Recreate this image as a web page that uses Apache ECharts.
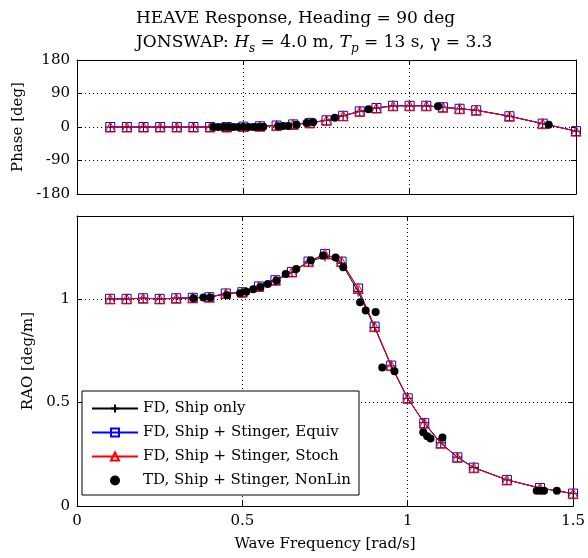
<!DOCTYPE html>
<html>
<head>
<meta charset="utf-8">
<script src="https://cdn.jsdelivr.net/npm/echarts@6/dist/echarts.min.js"></script>
<style>
  html, body { margin: 0; padding: 0; background: #fff; }
  #chart { width: 588px; height: 558px; }
</style>
</head>
<body>
<div id="chart"></div>
<script>
// frequency-domain results (rad/s)
var fdFreq = [0.1, 0.15, 0.2, 0.25, 0.3, 0.35, 0.4, 0.45, 0.5, 0.55, 0.6, 0.65, 0.7, 0.75, 0.8, 0.85, 0.9, 0.95, 1.0, 1.05, 1.1, 1.15, 1.2, 1.3, 1.4, 1.5];
var phaseShip  = [0, 0, 0, 0, 0, 0, 0, 0, 1, 2, 4, 7, 11, 18, 30, 42, 51, 57, 57, 57, 53, 49, 45, 29, 9, -11];
var phaseEquiv = [0, 0, 0, 0, 0, 0, 0, 0, 1, 2, 4, 7, 11, 18, 30, 42, 51, 57, 57, 57, 53, 49, 45, 29, 9, -11];
var phaseStoch = [0, 0, 0, 0, 0, 0, 0, 0, 1, 2, 4, 7, 11, 18, 30, 42, 51, 57, 57, 57, 53, 49, 45, 29, 9, -11];
var raoShip  = [1.0, 1.0, 1.003, 1.0, 1.003, 1.005, 1.008, 1.024, 1.032, 1.058, 1.088, 1.128, 1.178, 1.205, 1.172, 1.035, 0.862, 0.676, 0.52, 0.402, 0.305, 0.236, 0.186, 0.126, 0.087, 0.06];
var raoEquiv = [1.0, 1.0, 1.003, 1.0, 1.003, 1.005, 1.008, 1.026, 1.032, 1.06, 1.09, 1.13, 1.18, 1.217, 1.18, 1.05, 0.866, 0.678, 0.52, 0.40, 0.303, 0.235, 0.185, 0.126, 0.087, 0.06];
var raoStoch = [1.0, 1.0, 1.003, 1.0, 1.003, 1.005, 1.008, 1.026, 1.032, 1.06, 1.09, 1.13, 1.18, 1.217, 1.18, 1.05, 0.866, 0.678, 0.52, 0.40, 0.303, 0.235, 0.185, 0.126, 0.087, 0.06];

// time-domain results
var tdPhaseFreq = [0.41, 0.425, 0.44, 0.455, 0.47, 0.485, 0.50, 0.515, 0.53, 0.545, 0.56, 0.605, 0.62, 0.635, 0.66, 0.69, 0.71, 0.775, 0.876, 1.085, 1.418];
var tdPhase     = [0, 0, 0, 0, 0, 0, 0, 0, 0, 0, 1, 2, 3, 3, 6, 11, 13, 25, 48, 56, 6];
var tdRaoFreq = [0.352, 0.382, 0.403, 0.454, 0.493, 0.512, 0.533, 0.555, 0.577, 0.603, 0.631, 0.663, 0.707, 0.744, 0.782, 0.805, 0.856, 0.873, 0.903, 0.923, 0.96, 1.047, 1.059, 1.069, 1.105, 1.39, 1.402, 1.412, 1.451];
var tdRao     = [1.003, 1.006, 1.006, 1.017, 1.027, 1.034, 1.046, 1.057, 1.072, 1.089, 1.12, 1.144, 1.185, 1.209, 1.2, 1.153, 0.984, 0.944, 0.936, 0.669, 0.651, 0.356, 0.337, 0.326, 0.331, 0.074, 0.074, 0.074, 0.074];

var seriesNames = ['FD, Ship only', 'FD, Ship + Stinger, Equiv', 'FD, Ship + Stinger, Stoch', 'TD, Ship + Stinger, NonLin'];
var phaseTicks = [-180, -90, 0, 90, 180];
var raoTicks = [0, 0.5, 1];
var freqTicks = [0, 0.5, 1, 1.5];

var FONT = 'DejaVu Serif';
var crossPath = 'path://M5,0L5,10M0,5L10,5';

function pairs(xs, ys) {
    return xs.map(function (x, i) { return [x, ys[i]]; });
}

function tickLabel(list) {
    return function (v) {
        for (var i = 0; i < list.length; i++) {
            if (Math.abs(list[i] - v) < 1e-9) return String(list[i]);
        }
        return '';
    };
}

function xAx(grid, pos, labels, name) {
    return {
        type: 'value', gridIndex: grid, position: pos, min: 0, max: 1.5, interval: 0.5,
        axisLine: { show: true, onZero: false, lineStyle: { color: '#000', width: 1 } },
        axisTick: { show: true, inside: true, length: 5, lineStyle: { color: '#000' } },
        axisLabel: { show: labels, margin: 8, color: '#000', fontFamily: FONT, fontSize: 15, formatter: tickLabel(freqTicks) },
        splitLine: { show: pos === 'bottom', lineStyle: { color: '#000', type: [1, 3], width: 1 } },
        name: name || '', nameLocation: 'middle', nameGap: 31,
        nameTextStyle: { color: '#000', fontFamily: FONT, fontSize: 15 }
    };
}

function yAx(grid, pos, min, max, interval, ticks, labels, name, gap) {
    return {
        type: 'value', gridIndex: grid, position: pos, min: min, max: max, interval: interval,
        axisLine: { show: true, onZero: false, lineStyle: { color: '#000', width: 1 } },
        axisTick: { show: true, inside: true, length: 5, lineStyle: { color: '#000' } },
        axisLabel: { show: labels, margin: 7, color: '#000', fontFamily: FONT, fontSize: 15, formatter: tickLabel(ticks), showMaxLabel: true },
        splitLine: { show: pos === 'left', lineStyle: { color: '#000', type: [1, 3], width: 1 } },
        name: name || '', nameLocation: 'middle', nameGap: gap || 40,
        nameTextStyle: { color: '#000', fontFamily: FONT, fontSize: 15 }
    };
}

function fdSeries(name, xi, yi, data, kind) {
    var s = {
        name: name, type: 'line', xAxisIndex: xi, yAxisIndex: yi, data: data,
        showAllSymbol: true, animation: false
    };
    if (kind === 'ship') {
        s.symbol = crossPath; s.symbolSize = 10; s.z = 2;
        s.lineStyle = { color: '#000', width: 1 };
        s.itemStyle = { color: 'rgba(0,0,0,0)', borderColor: '#000', borderWidth: 1 };
    } else if (kind === 'equiv') {
        s.symbol = 'rect'; s.symbolSize = 9; s.z = 3;
        s.lineStyle = { color: '#0000ff', width: 1 };
        s.itemStyle = { color: 'rgba(0,0,0,0)', borderColor: '#0000ff', borderWidth: 1 };
    } else {
        s.symbol = 'triangle'; s.symbolSize = 10; s.z = 4;
        s.lineStyle = { color: '#ff0000', width: 1 };
        s.itemStyle = { color: 'rgba(0,0,0,0)', borderColor: '#ff0000', borderWidth: 1 };
    }
    return s;
}

function tdSeries(xi, yi, data) {
    return {
        name: seriesNames[3], type: 'scatter', xAxisIndex: xi, yAxisIndex: yi, data: data,
        symbol: 'circle', symbolSize: 8, z: 5, animation: false,
        itemStyle: { color: '#000', opacity: 1 }
    };
}

var chart = echarts.init(document.getElementById('chart'), null, { renderer: 'canvas' });

var option = {
    backgroundColor: '#fff',
    animation: false,
    title: {
        left: 131, top: 2,
        text: 'HEAVE Response, Heading = 90 deg\nJONSWAP: {i|H}{s|s} = 4.0 m, {i|T}{s|p} = 13 s, γ = 3.3',
        textStyle: {
            color: '#000', fontFamily: FONT, fontSize: 17, fontWeight: 'normal', lineHeight: 24,
            rich: {
                i: { fontFamily: FONT, fontSize: 17, fontStyle: 'italic', color: '#000', lineHeight: 24 },
                s: { fontFamily: FONT, fontSize: 12, fontStyle: 'italic', color: '#000', lineHeight: 12, verticalAlign: 'bottom' }
            }
        }
    },
    legend: {
        orient: 'vertical', left: 82, top: 391,
        data: seriesNames,
        itemWidth: 46, itemHeight: 10, itemGap: 9,
        padding: [10, 8, 7, 9],
        backgroundColor: '#fff', borderColor: '#000', borderWidth: 1, borderRadius: 0,
        textStyle: { color: '#000', fontFamily: FONT, fontSize: 15 },
        selectedMode: false
    },
    grid: [
        { left: 77, right: 12, top: 60, height: 134 },
        { left: 77, right: 12, top: 216, height: 290 }
    ],
    xAxis: [
        xAx(0, 'bottom', false),
        xAx(0, 'top', false),
        xAx(1, 'bottom', true, 'Wave Frequency [rad/s]'),
        xAx(1, 'top', false)
    ],
    yAxis: [
        yAx(0, 'left', -180, 180, 90, phaseTicks, true, 'Phase [deg]', 44),
        yAx(0, 'right', -180, 180, 90, phaseTicks, false),
        yAx(1, 'left', 0, 1.4, 0.5, raoTicks, true, 'RAO [deg/m]', 36),
        yAx(1, 'right', 0, 1.4, 0.5, raoTicks, false)
    ],
    series: [
        fdSeries(seriesNames[0], 0, 0, pairs(fdFreq, phaseShip), 'ship'),
        fdSeries(seriesNames[1], 0, 0, pairs(fdFreq, phaseEquiv), 'equiv'),
        fdSeries(seriesNames[2], 0, 0, pairs(fdFreq, phaseStoch), 'stoch'),
        tdSeries(0, 0, pairs(tdPhaseFreq, tdPhase)),
        fdSeries(seriesNames[0], 2, 2, pairs(fdFreq, raoShip), 'ship'),
        fdSeries(seriesNames[1], 2, 2, pairs(fdFreq, raoEquiv), 'equiv'),
        fdSeries(seriesNames[2], 2, 2, pairs(fdFreq, raoStoch), 'stoch'),
        tdSeries(2, 2, pairs(tdRaoFreq, tdRao))
    ]
};

if (option && typeof option === "object") {
    chart.setOption(option, true);
}
</script>
</body>
</html>
